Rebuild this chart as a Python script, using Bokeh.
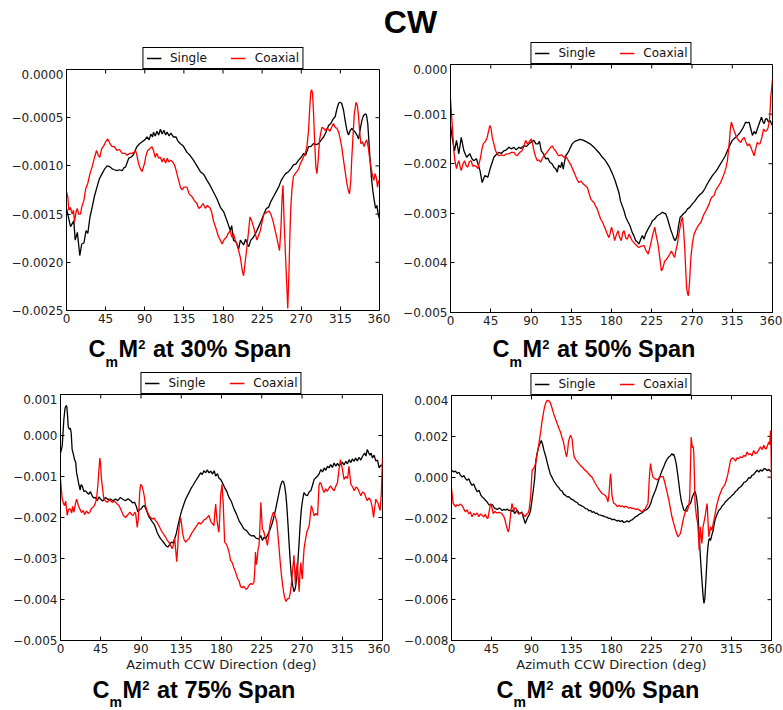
from bokeh.plotting import figure
from bokeh.layouts import column, row
from bokeh.models import Label, Legend, LegendItem, FixedTicker, Range1d
from bokeh.embed import file_html
from bokeh.resources import INLINE
import numpy as np

# ---------------- data (azimuth deg, value in units of 1e-4) ----------------
x_ticks = [0, 45, 90, 135, 180, 225, 270, 315, 360]
x_tick_labels = ["0", "45", "90", "135", "180", "225", "270", "315", "360"]

y_ticks_30 = [0.0, -0.0005, -0.0010, -0.0015, -0.0020, -0.0025]
y_labels_30 = ["0.0000", "\u22120.0005", "\u22120.0010", "\u22120.0015", "\u22120.0020", "\u22120.0025"]
y_ticks_50 = [0.0, -0.001, -0.002, -0.003, -0.004, -0.005]
y_labels_50 = ["0.000", "\u22120.001", "\u22120.002", "\u22120.003", "\u22120.004", "\u22120.005"]
y_ticks_75 = [0.001, 0.0, -0.001, -0.002, -0.003, -0.004, -0.005]
y_labels_75 = ["0.001", "0.000", "\u22120.001", "\u22120.002", "\u22120.003", "\u22120.004", "\u22120.005"]
y_ticks_90 = [0.004, 0.002, 0.0, -0.002, -0.004, -0.006, -0.008]
y_labels_90 = ["0.004", "0.002", "0.000", "\u22120.002", "\u22120.004", "\u22120.006", "\u22120.008"]

series_names = ["Single", "Coaxial"]
spans = ["30% Span", "50% Span", "75% Span", "90% Span"]
x_axis_label = "Azimuth CCW Direction (deg)"
main_title = "CW"

s30_x = [0, 4.6, 8.4, 10, 12.5, 15.3, 17.5, 20, 22.5, 24.5, 27, 29.5, 32, 35, 38, 41, 44, 46.7, 50, 52.5, 55, 58, 61, 64, 66, 68, 70, 71.6, 74, 76.6, 79, 81, 84, 87, 90, 92.7, 95, 97, 99, 100, 102, 104, 106, 108, 110, 112, 114, 115.7, 118, 120, 123, 126, 128, 131, 134, 138.6, 142, 146, 150, 154, 158, 161.6, 165, 169, 173, 177, 181, 184.6, 188.4, 190, 192, 195, 198, 200, 203.7, 206, 209.5, 212, 215, 218, 221, 224, 227, 230, 232.5, 235, 238, 241, 244, 247, 249.7, 252, 255.4, 258, 261, 264, 267, 270, 272.7, 275, 278.4, 281, 284, 287, 290, 293, 295.7, 298, 301.4, 304, 307, 309, 311, 313, 314.8, 316.5, 318.6, 320.5, 322.5, 324.4, 326, 328, 330, 332, 334, 335.9, 338, 339.7, 341.5, 343.5, 345, 346.5, 348, 349.5, 351, 352.5, 354, 355.5, 357, 358.5, 360]
s30_y = [-14.4, -16.3, -15.7, -17.7, -16.9, -19.3, -18.1, -18.0, -16.7, -17.0, -15.3, -14.3, -13.2, -12.2, -11.3, -10.8, -10.3, -10.0, -10.1, -10.3, -10.4, -10.5, -10.4, -10.5, -10.2, -10.1, -9.6, -9.2, -9.1, -8.9, -8.4, -8.0, -7.7, -7.5, -7.3, -7.0, -7.3, -6.7, -7.0, -6.5, -6.9, -6.4, -6.8, -6.2, -6.7, -6.3, -6.8, -6.5, -6.9, -6.6, -7.0, -7.0, -7.4, -7.7, -7.9, -8.6, -8.9, -9.4, -10.0, -10.6, -10.9, -11.5, -12.0, -12.7, -13.4, -14.3, -14.8, -15.7, -16.7, -16.2, -17.7, -17.9, -18.6, -17.7, -18.2, -17.6, -18.4, -17.7, -17.4, -16.9, -16.3, -15.7, -15.0, -14.4, -14.3, -13.7, -13.2, -12.7, -12.2, -11.5, -11.1, -10.8, -10.6, -10.3, -9.9, -9.8, -9.4, -9.1, -8.7, -8.9, -8.0, -8.0, -7.7, -7.8, -7.7, -7.3, -7.0, -6.6, -5.8, -5.6, -5.1, -4.9, -4.1, -3.5, -3.4, -3.5, -4.2, -5.3, -6.3, -6.8, -6.4, -6.1, -6.3, -6.5, -6.8, -7.2, -6.1, -5.3, -4.8, -4.6, -4.7, -5.6, -7.7, -9.8, -11.5, -12.7, -13.6, -14.4, -14.1, -15.0, -15.5]

c30_x = [0, 1.5, 2.7, 4.5, 6.5, 8, 9.2, 11, 12.3, 14, 16, 18, 20, 22, 24.5, 27, 29.5, 32, 34.5, 36.5, 38.3, 40.5, 43, 45, 47.5, 50, 52.5, 55, 58, 61, 64, 67, 69.7, 72.5, 75.4, 77.5, 79.3, 81, 83, 85, 87, 88.5, 89.6, 91.5, 93.4, 96, 98.4, 100, 102, 104, 106, 108, 110, 111.8, 114, 116, 117.6, 120, 123, 125, 127, 129, 131, 133, 135, 138.6, 141, 144.4, 147, 150, 152, 154, 157, 159.7, 162, 165.4, 167, 169, 172, 175, 177, 179, 181.5, 184, 186, 188.4, 190, 192, 194, 196, 198, 200, 202, 203.7, 205.5, 207.5, 209.5, 211, 213, 215, 217, 219, 221, 223, 225, 227, 230.5, 233, 235, 237.5, 240, 242.5, 245, 246.7, 248, 249, 250.5, 252.8, 254.5, 255.8, 257, 258, 259.5, 261, 263, 265, 267, 268.8, 271, 272.5, 274.6, 276.5, 278.4, 279.8, 281, 282, 283, 284.2, 285.3, 286.8, 288, 289.5, 291, 293.7, 295.5, 297.5, 300, 303, 305, 307, 309, 311, 313, 314.8, 316.5, 318.6, 320.5, 322.5, 324, 325.5, 327, 328, 329.5, 331, 333, 334.5, 335.9, 337.3, 338.6, 340.5, 342.4, 344, 345.3, 347, 348.5, 350.5, 352.3, 353.5, 355, 356.5, 357.7, 359, 360]
c30_y = [-12.7, -13.2, -14.6, -14.3, -15.0, -14.6, -15.8, -14.8, -14.4, -15.0, -15.0, -14.1, -13.6, -12.4, -11.8, -10.8, -10.1, -9.2, -8.4, -8.9, -9.1, -8.2, -7.9, -7.5, -7.2, -7.7, -8.0, -8.0, -8.4, -8.3, -8.7, -8.7, -8.9, -8.7, -8.7, -8.6, -8.4, -8.9, -9.8, -10.3, -10.6, -10.1, -9.8, -8.9, -8.4, -8.2, -8.0, -8.4, -9.1, -8.7, -9.2, -9.1, -9.6, -9.2, -9.7, -9.2, -9.6, -9.4, -9.7, -10.1, -10.8, -11.5, -12.2, -12.5, -12.2, -12.2, -12.9, -13.2, -13.6, -13.9, -14.4, -14.3, -13.9, -14.4, -14.1, -14.4, -14.8, -15.7, -16.5, -17.4, -17.7, -18.1, -17.6, -17.4, -17.0, -16.7, -17.4, -17.0, -17.7, -18.1, -18.8, -19.5, -20.8, -21.4, -20.0, -18.4, -16.7, -15.3, -15.7, -16.3, -17.0, -17.7, -17.2, -16.7, -15.8, -15.0, -14.8, -14.7, -15.0, -15.7, -16.7, -17.7, -18.8, -16.3, -13.2, -12.0, -16.3, -21.2, -24.8, -21.2, -17.0, -14.3, -12.2, -11.1, -10.8, -10.6, -10.3, -9.8, -9.4, -9.1, -8.7, -8.0, -6.3, -3.9, -2.3, -2.1, -2.5, -4.6, -7.3, -10.1, -10.8, -9.4, -7.3, -6.0, -6.1, -6.3, -6.1, -6.4, -6.0, -5.6, -6.0, -6.1, -6.5, -7.2, -8.0, -9.4, -10.6, -11.8, -12.5, -12.9, -11.5, -9.4, -7.0, -4.6, -3.4, -3.7, -4.9, -6.6, -7.7, -7.5, -8.0, -7.5, -7.3, -8.0, -9.1, -10.3, -11.1, -11.5, -10.8, -11.3, -12.2, -11.5, -11.8]

s50_x = [0, 1.9, 4.5, 6.7, 9.3, 12, 15, 18, 21.6, 24, 26, 29, 31, 33, 35.4, 38.4, 41.8, 44.8, 48.5, 51, 54, 57, 59.7, 62.5, 65.3, 68, 71, 73.5, 76.5, 79, 82, 85, 87.7, 90.5, 93.3, 95.5, 97.8, 99.5, 101.5, 104, 106.3, 109, 111, 113.5, 115.6, 117.5, 119.4, 121, 123, 124.5, 126, 128.7, 130.5, 132.4, 136, 139, 141.8, 144.5, 147.4, 150, 153, 156, 158.5, 161, 164, 167, 169.8, 172.5, 175.3, 178, 181, 184, 186.5, 188.5, 190, 192, 194, 196, 197.8, 200.7, 203, 205, 207, 209, 210.7, 212.5, 214.5, 216.5, 218, 220, 222, 224, 225.7, 228, 231, 234, 237, 240.6, 242.5, 244.4, 246, 248, 249.5, 251, 252.5, 253.7, 255, 256.7, 258.5, 260.4, 262.5, 265, 267.5, 270.4, 273, 276, 279, 281.7, 284.5, 287, 290, 292.8, 295.5, 298.4, 301, 304, 307, 309.6, 312.5, 315, 318, 321, 323.5, 326.4, 328, 330, 332, 333.9, 335.5, 337.6, 339.5, 341.3, 343, 345, 347.7, 349.2, 350.7, 352.2, 353.6, 355.5, 357.4, 359, 360]
s50_y = [-12.3, -14.7, -17.4, -15.3, -18.0, -14.7, -17.4, -18.7, -18.0, -19.0, -19.4, -19.0, -20.2, -21.4, -23.8, -22.4, -22.7, -20.7, -18.7, -18.2, -17.7, -17.9, -17.4, -17.2, -16.7, -17.0, -16.7, -17.2, -16.7, -16.9, -16.4, -16.5, -16.0, -15.6, -15.3, -16.0, -16.0, -15.5, -17.4, -18.0, -19.0, -18.9, -19.7, -20.0, -20.7, -21.0, -21.7, -20.3, -20.8, -19.7, -21.1, -18.4, -18.0, -17.4, -16.0, -15.5, -15.3, -15.1, -15.2, -15.4, -15.7, -16.0, -16.4, -16.8, -17.4, -18.0, -18.7, -19.2, -20.0, -20.8, -22.0, -23.4, -24.8, -26.0, -27.5, -28.5, -29.5, -30.8, -31.5, -32.5, -33.8, -34.5, -35.5, -35.8, -36.2, -35.3, -34.5, -35.2, -34.2, -33.5, -32.8, -32.2, -31.5, -31.2, -30.5, -30.2, -29.8, -30.1, -31.0, -32.2, -33.2, -34.2, -35.0, -35.5, -35.0, -34.2, -32.5, -30.8, -30.5, -30.1, -29.8, -29.1, -28.8, -28.1, -27.6, -26.8, -26.2, -25.8, -25.0, -24.1, -23.2, -22.4, -21.8, -21.1, -20.3, -19.4, -18.5, -17.4, -16.2, -15.3, -14.8, -14.3, -13.8, -13.0, -12.4, -11.6, -11.8, -11.6, -12.8, -14.3, -13.5, -14.0, -13.0, -12.0, -10.6, -11.5, -11.9, -11.0, -10.9, -11.6, -11.3, -12.0, -12.3]

c50_x = [0, 1.9, 3.7, 5, 6.7, 8, 9.3, 11, 12, 14, 15.7, 17.5, 19.4, 21, 23, 25, 26.9, 29, 30.6, 32, 33.6, 35, 36.6, 39, 41, 42.5, 44, 45.5, 46.6, 48.5, 50.4, 52, 54, 57, 59.7, 62.5, 65.3, 68, 71, 72.5, 74.6, 77, 80, 82, 84, 86, 87.7, 89, 90.3, 91.8, 93.3, 95, 97, 99, 100.7, 102.5, 104.5, 106.5, 109, 111.5, 113.8, 115.5, 117.5, 119, 121, 124, 126.8, 128.5, 130.6, 133, 135, 137, 138.8, 141, 143.6, 146, 148.4, 150.5, 153, 155, 156.7, 158.5, 160.4, 162, 164, 166, 167.9, 170, 171.6, 173.5, 175.3, 177.2, 178.5, 180, 181.8, 183.5, 185.5, 187.3, 189, 191, 192.5, 194, 196, 197.8, 199.5, 201.4, 203, 205, 208, 210.7, 213.5, 216.3, 218.5, 221, 222.8, 224.6, 226.5, 228.4, 230, 232, 234, 235.8, 237.5, 239.5, 241, 243, 245, 247, 249, 250.6, 252, 253.6, 255, 256.7, 258, 259.3, 260.5, 262, 263, 264, 265, 266, 267.2, 268.7, 270.5, 272.3, 274, 276, 278, 280, 282, 283.6, 285.5, 287.4, 289, 291, 293, 294.7, 296.5, 298.4, 300.2, 302, 304, 306, 308, 309.6, 311, 312, 313, 314, 315.5, 317, 319, 321, 323, 324.6, 326.5, 328.4, 330, 332, 334, 335.8, 337.5, 339.5, 341.2, 343, 344.5, 346, 348, 350, 351.8, 353.6, 355, 356.3, 357.2, 358, 359, 360]
c50_y = [-6.9, -12.0, -17.4, -19.5, -21.0, -20.0, -19.4, -20.8, -21.4, -20.0, -19.4, -20.4, -20.7, -19.6, -19.4, -20.5, -20.4, -20.6, -21.0, -20.0, -18.7, -17.2, -16.0, -15.5, -14.7, -13.5, -12.3, -13.0, -14.7, -16.0, -17.4, -18.0, -18.4, -18.2, -18.4, -18.0, -18.0, -17.7, -17.7, -18.2, -18.4, -17.8, -17.4, -16.5, -15.3, -16.0, -15.7, -15.3, -15.0, -16.0, -17.4, -18.5, -19.4, -19.2, -19.7, -19.0, -18.4, -18.0, -17.4, -16.8, -16.4, -17.0, -17.4, -17.9, -18.4, -18.2, -18.7, -18.5, -19.0, -19.8, -20.4, -21.3, -22.0, -23.0, -23.8, -23.5, -24.1, -24.4, -24.8, -26.0, -27.1, -27.5, -27.8, -28.5, -29.1, -30.2, -31.2, -31.8, -32.5, -33.3, -34.2, -34.9, -34.0, -32.8, -34.0, -35.5, -34.3, -33.5, -34.8, -35.5, -34.0, -33.5, -35.0, -35.2, -34.2, -34.9, -35.5, -35.9, -36.5, -36.9, -36.6, -36.5, -37.5, -38.2, -37.0, -35.5, -34.0, -32.8, -34.5, -36.2, -39.0, -41.6, -41.0, -39.6, -39.4, -38.9, -38.3, -37.6, -38.4, -38.9, -37.5, -36.2, -34.5, -32.8, -31.5, -30.8, -33.0, -37.5, -41.5, -45.0, -46.2, -46.6, -44.0, -39.0, -36.0, -34.2, -33.5, -32.8, -32.2, -31.8, -30.8, -30.1, -29.5, -28.8, -28.2, -27.1, -26.6, -26.4, -25.4, -24.8, -24.3, -23.8, -22.9, -22.0, -20.8, -19.4, -17.0, -15.0, -12.8, -11.6, -12.5, -13.3, -14.3, -15.0, -15.5, -15.7, -15.0, -14.7, -15.5, -16.4, -16.0, -16.7, -17.5, -18.4, -17.0, -15.7, -16.0, -16.0, -14.8, -13.0, -13.5, -13.3, -12.8, -11.6, -10.0, -6.6, -5.0, -2.9]

s75_x = [0, 1.9, 3.7, 5, 5.6, 6.5, 7.1, 8, 8.6, 9.8, 11, 12, 13, 14.3, 15.7, 17, 18, 19.3, 20.5, 22, 23, 24.3, 26, 28, 29.8, 31.7, 33.5, 35.4, 37, 39, 41, 43, 44.8, 47, 50.4, 53, 56, 58.5, 61.6, 64, 67, 70, 72.7, 75.5, 78.4, 80.5, 82.8, 84.8, 86.5, 88.5, 90.3, 92, 94, 95.5, 97, 98.8, 100.7, 102.5, 104.5, 106, 108, 110, 112, 114, 116.4, 118, 120, 122, 124, 126, 127.6, 129.5, 131.3, 133, 135, 137.5, 140, 142.8, 145.5, 148, 151, 154, 156.7, 158.5, 160.3, 162.3, 164, 166, 168, 170, 171.8, 173.5, 175.5, 177.3, 179, 181, 183.5, 186, 188.4, 191, 194, 197, 199.6, 202.5, 205, 208, 210.7, 213.5, 216, 219, 222, 224, 225.7, 227.5, 229.4, 231.5, 233, 235, 237, 239, 240.6, 242.5, 244.4, 246, 248, 249.4, 250.6, 252, 253, 254.3, 255.5, 256.8, 258, 259.5, 261, 262.5, 264, 265.5, 266.8, 268, 269.3, 270.8, 272.3, 274, 276, 278, 279.8, 281.7, 283.6, 285.5, 287.4, 289.3, 291, 293, 294.8, 296.6, 298.5, 300.3, 302, 304, 305.9, 307.8, 309.6, 311.4, 313, 315, 317, 319, 320.8, 322.7, 324.6, 326.4, 328.2, 330, 331.9, 333.8, 335.8, 337.8, 340, 341.5, 343, 344.5, 346, 347.3, 348.8, 350.6, 352.5, 354.4, 356.3, 358.2, 360]
s75_y = [-4.3, -2.6, 3.8, 6.5, 7.0, 7.3, 7.0, 4.5, 2.2, 1.5, 1.8, 0.5, -3.4, -4.5, -5.9, -6.5, -9.1, -10.5, -11.9, -13.3, -12.0, -12.3, -13.6, -13.5, -14.0, -14.3, -13.7, -14.7, -15.2, -15.1, -15.9, -15.0, -15.5, -16.0, -15.1, -15.6, -15.5, -15.9, -15.5, -15.9, -15.1, -15.6, -15.9, -15.4, -15.9, -16.4, -16.3, -17.3, -18.7, -18.0, -17.9, -17.3, -17.1, -18.0, -18.7, -19.8, -20.4, -21.0, -21.6, -22.3, -23.6, -24.5, -25.2, -25.7, -26.4, -26.9, -27.2, -26.6, -26.0, -26.2, -25.2, -23.9, -22.0, -20.4, -18.7, -17.0, -15.5, -14.3, -13.1, -12.2, -11.1, -10.1, -9.1, -9.5, -8.6, -9.1, -8.4, -9.1, -8.7, -9.4, -8.6, -9.9, -9.3, -10.5, -10.7, -11.5, -12.7, -13.7, -15.1, -16.1, -17.9, -19.3, -20.8, -21.8, -22.8, -23.2, -24.0, -24.5, -24.4, -25.1, -25.2, -24.4, -25.6, -24.8, -25.2, -24.3, -23.6, -22.5, -21.2, -19.5, -17.9, -15.9, -13.9, -12.2, -11.1, -11.3, -12.3, -14.5, -17.1, -21.5, -26.0, -30.5, -34.0, -36.5, -38.1, -37.3, -35.0, -30.5, -26.0, -21.5, -17.9, -15.5, -13.9, -14.5, -14.7, -13.8, -13.5, -12.2, -10.7, -10.3, -9.9, -9.3, -8.3, -8.9, -7.9, -8.5, -7.5, -7.9, -7.1, -7.8, -6.7, -7.5, -6.8, -7.4, -7.1, -6.5, -7.2, -6.3, -6.9, -5.9, -6.6, -5.7, -6.3, -5.5, -6.2, -5.3, -6.0, -5.0, -4.3, -5.0, -3.4, -4.2, -4.8, -4.3, -5.5, -4.8, -6.2, -6.0, -7.9, -7.2, -7.5]

c75_x = [0, 1.9, 3.2, 4.5, 5.8, 7.5, 9, 11, 12.5, 13.5, 15, 16.5, 18, 19.8, 21.6, 23.5, 25.4, 27, 29, 31, 32.8, 34.5, 36.6, 38.5, 40.3, 41.8, 43, 44, 44.8, 45.5, 46.8, 48.5, 50.4, 52.2, 55, 57.8, 60.6, 63.4, 65.7, 67.9, 70.3, 72.7, 75, 77.6, 79.5, 81.3, 83, 84, 85.8, 87, 87.7, 88.5, 89.5, 91, 92.5, 93.8, 95, 97, 98.9, 100.7, 102.6, 104.5, 106.3, 108, 110, 111.8, 113.8, 115.6, 117.5, 119.2, 121, 123, 125, 126.4, 127.6, 128.8, 129.9, 131, 131.7, 133, 134.3, 135.5, 136.5, 138, 140, 141.8, 143.6, 145.5, 147.4, 149.2, 151, 153, 154.8, 156.6, 158.5, 160.4, 162.3, 164, 166, 167.3, 168.6, 170, 171.6, 172.5, 173.5, 174.5, 175.3, 176.3, 177.2, 178, 179, 180.6, 182, 183.5, 185.5, 187.3, 189, 190, 192, 194, 196, 197.8, 199.6, 201.4, 203.2, 205, 207, 209, 210.8, 212.6, 214.5, 216.3, 217.2, 218, 219, 220, 221, 222, 223, 224, 224.8, 225.7, 227, 228.4, 230, 231.3, 232.6, 234, 236, 238, 240, 241.8, 243, 244.4, 245.7, 247, 248.5, 250, 251, 252, 253.8, 255.5, 256.8, 258, 259.5, 261, 262, 262.6, 263.5, 264.8, 265.8, 266.8, 267.8, 268.7, 269.5, 270.4, 271.3, 272.3, 273.8, 275.3, 276.7, 278, 279.3, 280.5, 282, 283.6, 285.5, 287.4, 288.2, 289, 290, 291, 293, 294.7, 296.5, 298.4, 300.2, 302, 304, 306, 307.8, 309.6, 311.3, 313, 315, 317, 319, 321, 322.5, 323.5, 324.6, 326.5, 328.4, 330.2, 332, 333.9, 335.8, 337.6, 339.5, 341.3, 343, 345, 347, 348.5, 350, 351.3, 352.5, 354, 355, 356.2, 357.4, 358.7, 360]
c75_y = [-10.7, -15.5, -16.5, -17.1, -16.0, -19.5, -18.0, -17.9, -18.9, -17.3, -18.7, -16.8, -15.5, -17.0, -17.9, -18.8, -18.3, -19.3, -18.4, -19.0, -18.7, -17.8, -17.5, -16.8, -15.5, -12.0, -8.3, -5.5, -6.8, -9.9, -12.5, -15.5, -16.0, -16.3, -15.6, -16.3, -16.0, -16.7, -17.2, -18.3, -19.5, -20.0, -19.4, -18.7, -19.3, -19.5, -18.7, -19.0, -22.4, -20.3, -17.8, -14.0, -11.9, -12.3, -13.5, -15.0, -17.1, -18.5, -19.5, -20.0, -20.4, -20.1, -20.8, -21.2, -22.0, -22.8, -23.6, -24.2, -24.8, -25.5, -26.0, -26.8, -27.6, -26.5, -25.0, -28.0, -30.8, -27.5, -24.5, -21.5, -20.0, -21.8, -23.8, -25.3, -26.0, -25.5, -25.2, -24.3, -23.6, -23.0, -22.4, -21.8, -21.2, -21.6, -21.2, -20.6, -20.4, -20.0, -19.5, -20.5, -21.2, -21.5, -22.0, -19.0, -16.7, -19.5, -21.2, -22.8, -23.6, -20.0, -14.7, -11.9, -17.0, -26.0, -26.5, -27.6, -29.0, -30.4, -31.0, -32.4, -33.5, -34.8, -35.5, -36.9, -37.1, -36.8, -37.5, -37.3, -36.5, -36.1, -36.3, -35.8, -33.0, -28.4, -31.5, -30.0, -27.5, -26.8, -22.0, -16.3, -19.5, -22.8, -23.3, -24.4, -25.5, -26.8, -24.8, -22.0, -20.0, -18.7, -19.6, -21.2, -24.0, -27.6, -31.0, -34.0, -36.8, -38.9, -39.8, -40.5, -39.8, -39.8, -38.5, -36.5, -33.0, -29.2, -33.5, -36.5, -33.0, -31.0, -34.5, -38.1, -33.5, -31.0, -33.5, -35.0, -31.0, -27.6, -25.5, -23.6, -22.8, -22.0, -19.5, -17.1, -18.2, -19.6, -19.0, -19.5, -16.0, -12.3, -11.5, -11.6, -13.0, -13.9, -13.0, -13.6, -12.8, -12.3, -13.0, -13.5, -12.4, -11.5, -8.5, -5.9, -8.0, -10.7, -10.0, -10.5, -7.5, -9.5, -11.9, -12.5, -13.5, -12.6, -12.8, -13.8, -14.7, -13.8, -14.0, -15.0, -15.9, -15.2, -16.0, -17.5, -20.0, -17.5, -15.5, -16.2, -16.5, -17.5, -18.3, -14.0, -5.5]

s90_x = [0, 2.6, 4.5, 6.4, 8.3, 10, 12, 14, 15.8, 17.6, 19.5, 21.3, 23, 25, 27, 29, 31, 33, 34.5, 36.3, 38, 40, 42, 44, 46, 48, 49.5, 51.5, 53.3, 55, 57, 59, 60.8, 62.7, 64.5, 66.4, 68, 69.5, 71, 72.5, 74, 75.8, 77.6, 79.2, 80.6, 81.8, 83, 84.5, 86, 87.5, 89, 90.5, 92, 93.5, 95, 96.5, 98, 99.5, 101, 102.5, 104, 105.8, 107.6, 109.3, 111, 113, 115, 117, 119, 120.8, 122.6, 124.4, 126.2, 128, 130, 132, 134, 136, 137.7, 139.5, 141.3, 143.2, 145, 147, 148.8, 150.8, 152.7, 154.5, 156.4, 158.2, 160, 162, 163.8, 165.7, 167.6, 169.4, 171.2, 173, 175, 176.8, 178.9, 180.7, 182.6, 184.5, 186.3, 188.2, 190, 191.8, 193.8, 195.7, 197.6, 199.5, 201.4, 203.2, 205, 207, 209, 210.8, 212.6, 214.5, 216.3, 218, 220, 222, 224, 225.7, 227.5, 229.5, 231.3, 233, 235, 237, 239, 240.8, 242.6, 244.5, 246.3, 248, 249, 250, 251.3, 252.8, 254.3, 255.8, 257, 258.4, 259.8, 261.4, 263, 265, 267, 268.9, 270.7, 272.6, 274, 275.6, 277, 278, 279, 280, 281, 282, 283, 284, 285, 285.8, 286.7, 287.6, 288.5, 289.5, 290.5, 291.4, 292.8, 294.4, 295.7, 297, 298.9, 300.8, 302.7, 304.5, 306.3, 308.2, 310, 311.9, 313.8, 315.8, 317.6, 319.5, 321.4, 323.3, 325, 327, 329, 330.8, 332.6, 334.4, 336.2, 338, 340, 342, 344, 345.8, 347.6, 349.5, 351.3, 353, 355, 357, 358.6, 360]
s90_y = [3.4, 2.6, 3.0, 1.8, 2.4, 1.0, 0.1, 0.8, -0.8, -1.5, -0.8, -2.7, -4.0, -3.3, -5.5, -7.2, -6.4, -8.8, -9.7, -10.3, -11.2, -12.1, -13.5, -13.7, -13.4, -15.0, -15.4, -15.8, -15.2, -15.4, -16.3, -15.8, -16.2, -15.6, -16.4, -16.2, -16.8, -16.0, -17.8, -17.0, -16.2, -17.5, -17.8, -17.0, -19.4, -21.0, -22.7, -21.0, -19.4, -18.5, -16.2, -11.5, -6.4, -1.0, 8.3, 12.0, 14.8, 16.5, 18.0, 16.0, 13.1, 10.5, 7.4, 4.5, 1.7, 0.0, -1.8, -3.1, -4.4, -5.2, -6.4, -6.8, -8.3, -8.8, -9.6, -9.5, -10.5, -11.0, -11.4, -12.1, -12.4, -13.5, -13.7, -14.2, -14.6, -15.4, -15.5, -16.5, -16.2, -17.2, -16.9, -17.8, -17.6, -18.5, -18.6, -18.9, -19.1, -19.4, -19.6, -20.2, -20.2, -20.9, -20.6, -21.0, -21.5, -21.1, -21.8, -21.2, -22.2, -21.9, -21.3, -22.0, -21.2, -20.9, -20.2, -19.4, -19.0, -18.3, -17.8, -17.5, -16.7, -16.2, -15.8, -14.8, -13.0, -10.5, -8.5, -6.4, -4.0, -1.5, 1.0, 3.4, 5.4, 7.4, 8.8, 9.9, 10.5, 11.5, 10.8, 11.2, 9.5, 6.6, 2.0, -3.1, -7.5, -11.3, -13.8, -16.2, -16.5, -14.5, -13.5, -12.9, -10.0, -8.0, -7.0, -9.7, -15.0, -24.3, -31.5, -39.0, -46.0, -52.0, -58.0, -61.8, -59.5, -53.7, -46.5, -39.0, -34.0, -30.8, -30.0, -31.0, -28.5, -26.0, -22.5, -20.2, -18.0, -16.2, -15.5, -14.0, -13.4, -12.0, -11.3, -10.5, -9.8, -8.8, -8.2, -7.0, -6.4, -5.3, -4.8, -4.0, -2.5, -2.3, -1.5, -0.2, -0.5, 0.9, 1.2, 2.5, 3.4, 2.5, 3.6, 2.9, 4.0, 4.2, 3.2, 3.8, 3.0, 3.0]

c90_x = [0, 1.9, 3.2, 4.5, 6.3, 8, 9.8, 12, 13.8, 15.7, 17.5, 19.5, 21.3, 23, 25, 27, 28.8, 30.7, 32.5, 34.5, 36.3, 38, 39.5, 41, 42.5, 44, 45.5, 47, 49, 51, 53.5, 56, 57.5, 59, 60.5, 62, 63, 64, 65, 65.6, 66.8, 68, 69, 70, 71.5, 73, 74.5, 75.7, 77.5, 79.5, 81, 83, 84.5, 86, 87.5, 89, 90, 90.7, 92, 93.4, 95, 96.4, 98, 99.4, 100.7, 102, 103.3, 104.6, 106, 107.6, 109.3, 111, 113, 115, 117, 119, 120.8, 122.6, 124.3, 126, 127.8, 129.4, 130.5, 131.6, 133, 134, 135.7, 137, 138, 140, 142, 144.5, 147, 149.8, 152.6, 155.3, 158, 161, 164, 166.7, 169.5, 171.3, 173, 174.5, 176, 177, 177.5, 178.3, 179, 179.7, 180.4, 181.5, 182.6, 184.5, 186.4, 188.5, 190.3, 192, 194, 195.8, 197.6, 199.5, 201.4, 203, 205, 207, 209, 211, 212.8, 214.5, 216.3, 218, 219.5, 221, 221.7, 222.4, 223.2, 224, 224.8, 225.7, 227, 228.4, 230, 231.4, 233, 235, 236.5, 238, 239.3, 240.7, 242.6, 244.5, 246.3, 248, 250, 252, 253.3, 254.6, 256, 257.6, 259, 260.6, 262, 263.6, 265, 266, 267, 268, 268.8, 269.6, 270.3, 271, 272, 272.6, 273.3, 274, 275.6, 277, 278, 278.6, 279.3, 280, 280.8, 281.6, 282.3, 283, 284.5, 285.8, 286.7, 287.6, 288.5, 289.5, 290.5, 291.4, 292.2, 293, 294.5, 296, 297, 298, 299.5, 300.8, 302.7, 304.5, 306.3, 308, 309.5, 311, 312.5, 314, 315.8, 317.6, 319.5, 321.3, 323, 325, 327, 328.9, 330.8, 332.6, 334.4, 336, 338, 340, 341.8, 343.9, 345.8, 347.6, 349.5, 351.4, 352.7, 354, 355.5, 357, 358, 358.9, 359.5, 360]
c90_y = [-5.6, -12.9, -13.5, -14.5, -13.5, -14.0, -13.2, -14.0, -15.5, -17.0, -16.0, -18.0, -17.0, -19.4, -17.8, -18.5, -17.5, -19.4, -18.0, -18.7, -19.5, -18.2, -19.8, -20.2, -16.5, -12.9, -15.0, -17.8, -16.8, -17.5, -17.3, -17.6, -18.5, -19.4, -21.5, -24.3, -25.8, -26.8, -24.8, -22.0, -17.0, -12.9, -14.5, -16.5, -14.8, -15.4, -17.5, -18.2, -17.5, -17.8, -18.3, -19.4, -18.0, -17.8, -15.5, -9.7, -2.0, 3.4, 4.0, 5.0, 7.5, 11.5, 15.3, 19.6, 23.5, 27.8, 31.0, 34.3, 36.2, 37.6, 37.5, 36.7, 34.0, 31.0, 28.5, 26.2, 24.0, 22.1, 19.5, 17.2, 13.0, 9.9, 12.5, 17.5, 19.5, 20.5, 18.5, 13.0, 9.9, 8.5, 7.4, 6.0, 5.0, 3.5, 2.6, 1.0, 0.1, -2.5, -4.7, -6.5, -8.0, -8.5, -8.9, -10.0, -12.1, -9.0, -6.4, -1.0, 1.7, -2.0, -8.5, -11.0, -12.9, -13.2, -14.5, -13.8, -14.5, -14.0, -14.8, -14.2, -14.5, -15.2, -14.8, -15.4, -15.2, -15.8, -15.5, -16.0, -16.5, -17.0, -16.0, -15.5, -14.0, -12.9, -8.0, -1.5, 3.5, 6.6, 4.0, 1.7, -0.2, -0.7, -1.0, -1.3, -0.5, 0.1, 0.3, 0.4, -1.5, -4.0, -7.5, -11.3, -15.5, -19.4, -22.6, -25.9, -27.5, -29.2, -28.5, -27.5, -24.5, -21.0, -18.5, -16.2, -16.8, -15.5, -13.5, -9.7, 5.0, 19.6, 17.0, 14.5, 15.0, 11.5, 0.0, -12.9, -19.4, -22.7, -30.0, -35.7, -30.0, -24.3, -28.5, -32.5, -29.0, -24.3, -21.0, -17.8, -15.0, -12.9, -21.0, -29.2, -27.0, -24.3, -25.5, -26.0, -22.5, -19.4, -17.0, -14.5, -12.0, -9.7, -7.5, -5.6, -4.5, -3.1, -1.0, 1.7, 5.0, 8.3, 9.5, 9.1, 7.8, 9.5, 9.1, 10.0, 9.5, 10.7, 10.2, 12.3, 11.0, 11.5, 10.5, 13.1, 11.5, 12.0, 13.5, 14.8, 13.5, 15.6, 14.0, 13.8, 15.5, 17.2, 16.0, 22.9, 15.0, -1.5]

SCALE = 1e-4  # the series above are given in units of 1e-4

# ---------------- styling / layout ----------------
FONT = "DejaVu Sans"
TITLE_FONT = "Liberation Sans"
BASE_SHIFT = 0.36  # anchor-to-baseline correction, as a fraction of the font size

panels = [
    dict(sx=s30_x, sy=s30_y, cx=c30_x, cy=c30_y, yr=(-0.0025, 0.0), yt=y_ticks_30, yl=y_labels_30,
         w=390, leg_h=29, h=261, bl=66, br=11, bt=0, bb=20, sub_h=42, sub=(22, 15.3), span=spans[0], xlab=False),
    dict(sx=s50_x, sy=s50_y, cx=c50_x, cy=c50_y, yr=(-0.005, 0.0), yt=y_ticks_50, yl=y_labels_50,
         w=392, leg_h=24, h=266, bl=60, br=10, bt=0, bb=18, sub_h=42, sub=(42, 15.3), span=spans[1], xlab=False),
    dict(sx=s75_x, sy=s75_y, cx=c75_x, cy=c75_y, yr=(-0.005, 0.001), yt=y_ticks_75, yl=y_labels_75,
         w=390, leg_h=22, h=280, bl=60, br=8, bt=0, bb=31, sub_h=35, sub=(32, 11.5), span=spans[2], xlab=True),
    dict(sx=s90_x, sy=s90_y, cx=c90_x, cy=c90_y, yr=(-0.008, 0.004), yt=y_ticks_90, yl=y_labels_90,
         w=392, leg_h=23, h=279, bl=61, br=11, bt=0, bb=33, sub_h=35, sub=(45, 11.5), span=spans[3], xlab=True),
]


def strip(width, height):
    f = figure(width=width, height=height, x_range=Range1d(0, 1), y_range=Range1d(0, 1), title=None,
               x_axis_location=None, y_axis_location=None, output_backend="svg",
               toolbar_location=None, min_border=0, outline_line_color=None)
    f.grid.visible = False
    return f


def text_label(fig, x, baseline_y, txt, size_px):
    fig.add_layout(Label(x=x, y=baseline_y + BASE_SHIFT * size_px, x_units="screen", y_units="screen",
                         text=txt, text_font=TITLE_FONT, text_font_style="bold",
                         text_font_size=f"{size_px}px", text_color="black",
                         text_align="left", text_baseline="alphabetic"))


cells = []
for pn in panels:
    p = figure(width=pn["w"], height=pn["h"], x_range=Range1d(0, 360), y_range=Range1d(*pn["yr"]),
               title=None, output_backend="svg", toolbar_location=None,
               min_border_left=pn["bl"], min_border_right=pn["br"],
               min_border_top=pn["bt"], min_border_bottom=pn["bb"])
    p.grid.visible = False
    p.outline_line_color = "black"
    p.outline_line_width = 1

    p.xaxis.ticker = FixedTicker(ticks=x_ticks)
    p.yaxis.ticker = FixedTicker(ticks=pn["yt"])
    p.xaxis.major_label_overrides = {t: l for t, l in zip(x_ticks, x_tick_labels)}
    p.yaxis.major_label_overrides = {t: l for t, l in zip(pn["yt"], pn["yl"])}
    for ax in (p.xaxis[0], p.yaxis[0]):
        ax.major_tick_in = 4
        ax.major_tick_out = 0
        ax.minor_tick_line_color = None
        ax.axis_line_color = "black"
        ax.major_tick_line_color = "black"
        ax.major_label_text_font = FONT
        ax.major_label_text_font_size = "12px"
        ax.major_label_text_color = "#222222"
        ax.major_label_standoff = 3
    if pn["xlab"]:
        p.xaxis.axis_label = x_axis_label
        p.xaxis.axis_label_text_font = FONT
        p.xaxis.axis_label_text_font_size = "13px"
        p.xaxis.axis_label_text_font_style = "normal"
        p.xaxis.axis_label_text_color = "#222222"
        p.xaxis.axis_label_standoff = 1

    # mirrored inward ticks on the top and right edges
    ymin, ymax = pn["yr"]
    p.ray(x=x_ticks, y=[ymax] * len(x_ticks), length=4, length_units="screen",
          angle=-np.pi / 2, line_color="black", line_width=1)
    p.ray(x=[360] * len(pn["yt"]), y=pn["yt"], length=4, length_units="screen",
          angle=np.pi, line_color="black", line_width=1)

    p.line(pn["sx"], list(np.array(pn["sy"]) * SCALE), line_color="black", line_width=1.3)
    p.line(pn["cx"], list(np.array(pn["cy"]) * SCALE), line_color="#ff0000", line_width=1.3)

    # legend strip just above the frame (legend proxies carry the same line styles)
    lg = strip(pn["w"], pn["leg_h"])
    k1 = lg.line(x=[np.nan], y=[np.nan], line_color="black", line_width=1.3)
    k2 = lg.line(x=[np.nan], y=[np.nan], line_color="#ff0000", line_width=1.3)
    leg = Legend(items=[LegendItem(label=series_names[0], renderers=[k1]),
                        LegendItem(label=series_names[1], renderers=[k2])],
                 location="bottom_center", orientation="horizontal",
                 border_line_color="black", border_line_width=1, border_line_alpha=1,
                 background_fill_color="white", background_fill_alpha=1,
                 label_text_font=FONT, label_text_font_size="12px", label_text_color="#111111",
                 glyph_width=15, glyph_height=10, label_height=10, label_standoff=9,
                 spacing=24, padding=3, margin=0)
    lg.add_layout(leg, "center")

    # subtitle strip:  C_m M^2 at xx% Span
    s = strip(pn["w"], pn["sub_h"])
    ox, oy = pn["sub"]
    text_label(s, ox + 0, oy + 0, "C", 23.5)
    text_label(s, ox + 17, oy - 9.5, "m", 14)
    text_label(s, ox + 30, oy + 0, "M", 23.5)
    text_label(s, ox + 49.8, oy + 8, "2", 13)
    text_label(s, ox + 64.5, oy + 0, "at " + pn["span"], 23.5)
    cells.append(column(lg, p, s, spacing=0))

header = strip(782, 40)
header.add_layout(Label(x=410, y=7 + BASE_SHIFT * 32, x_units="screen", y_units="screen", text=main_title,
                        text_font=TITLE_FONT, text_font_style="bold", text_font_size="32px",
                        text_color="black", text_align="center", text_baseline="alphabetic"))

layout = column(header, row(cells[0], cells[1], spacing=0), row(cells[2], cells[3], spacing=0), spacing=0)

open("out.html", "w").write(file_html(layout, INLINE))
